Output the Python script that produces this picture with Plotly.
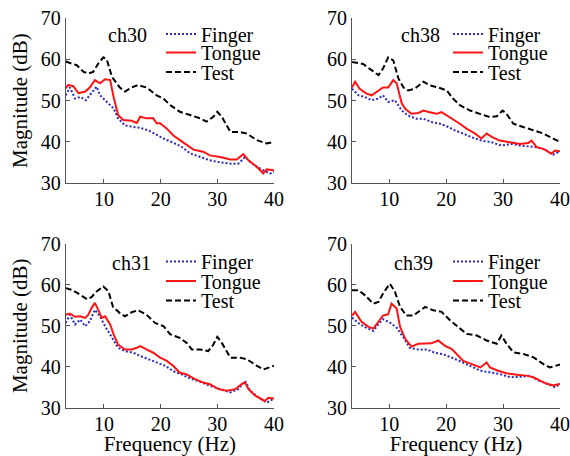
import plotly.graph_objects as go

# ---------------- data ----------------
# ch30
ch30_test_f = [3.25,5.2,6.4,7.25,8.1,9.0,9.9,10.5,11.4,12.0,12.8,13.7,14.9,16.0,17.5,19.3,20.5,21.7,23.4,25.2,27.0,28.1,29.3,30.0,30.8,32.3,34.0,35.2,37.0,38.7,40.0]
ch30_test = [59.5,58.6,57.0,56.6,57.0,59.0,60.5,60.0,55.8,54.6,53.2,52.2,53.2,53.8,53.2,51.3,50.5,48.9,47.3,46.5,45.7,44.9,46.1,47.3,46.1,42.4,42.4,42.0,40.4,39.6,40.0]
ch30_tongue_f = [3.25,3.7,4.6,5.5,6.7,7.5,8.4,9.3,10.2,11.1,11.7,12.5,13.4,14.9,15.8,16.4,17.5,18.7,19.3,19.9,21.1,22.2,23.4,24.6,25.8,27.5,28.7,30.5,32.3,33.4,34.6,35.5,37.0,38.1,38.7,40.0]
ch30_tongue = [53.0,53.8,53.5,51.8,52.2,53.2,55.0,54.2,55.2,55.0,50.9,46.5,45.3,45.1,44.6,46.1,45.7,45.7,44.5,44.5,43.2,41.6,40.4,39.2,38.1,37.6,36.7,36.3,35.7,35.7,37.0,35.5,33.9,32.3,33.3,33.1]
ch30_finger_f = [3.25,4.0,4.9,5.8,6.8,7.8,8.7,9.3,10.5,11.7,12.5,13.7,15.2,16.4,17.8,19.3,20.8,22.2,23.7,25.2,27.0,28.7,30.5,32.3,33.7,34.9,35.8,37.0,38.1,39.3,40.0]
ch30_finger = [51.3,53.2,50.5,50.9,50.1,51.8,53.4,51.3,49.7,48.1,45.7,44.0,43.6,43.4,42.8,41.6,40.6,39.8,38.8,37.2,36.3,35.5,35.0,34.7,34.7,36.3,35.1,33.9,33.1,32.3,32.7]

# ch38
ch38_test_f = [3.45,5.4,6.9,8.1,8.9,9.8,10.7,11.6,12.5,13.3,14.5,16.0,17.1,18.6,20.1,21.2,22.4,24.2,25.9,27.7,28.9,29.9,30.6,31.8,33.5,35.3,37.1,38.8,40.0]
ch38_test = [59.4,58.9,57.4,56.2,57.8,60.5,59.8,55.4,53.2,52.5,52.9,54.6,53.7,53.2,52.5,50.5,48.9,47.6,46.8,46.0,46.2,47.6,46.8,44.4,43.6,42.8,42.0,40.8,40.0]
ch38_tongue_f = [3.45,4.0,4.8,6.0,6.9,7.8,8.9,9.8,10.7,11.3,12.2,12.8,13.9,15.1,16.0,17.1,18.3,19.2,20.1,21.2,22.4,23.6,25.1,26.2,27.1,28.0,29.4,31.2,33.0,34.4,35.0,35.9,37.1,38.5,39.1,40.0]
ch38_tongue = [53.2,54.6,52.9,51.7,51.3,52.1,53.2,53.2,55.0,54.2,49.3,48.0,46.8,47.0,47.6,47.2,46.8,47.2,46.4,45.6,44.4,43.2,42.0,40.8,42.0,41.2,40.3,39.9,39.5,39.7,40.3,38.7,38.3,37.1,37.9,37.7]
ch38_finger_f = [3.45,4.6,5.7,6.9,8.1,8.9,9.8,11.0,12.2,13.3,14.8,16.0,17.4,18.9,20.4,21.5,23.0,24.5,26.2,28.0,29.7,31.5,33.0,34.4,35.9,37.4,38.8,40.0]
ch38_finger = [52.9,51.3,50.9,50.1,50.5,51.3,49.7,50.1,47.6,46.4,45.6,45.6,44.8,44.4,43.6,42.8,42.0,41.1,40.3,39.9,39.1,39.5,39.1,38.9,38.7,38.1,36.9,37.7]

# ch31
ch31_test_f = [3.25,4.3,5.8,7.0,7.8,8.7,9.9,10.8,11.6,12.8,13.7,14.9,16.0,17.5,19.0,20.5,21.7,23.4,24.6,25.5,27.0,28.4,29.3,30.0,30.8,32.3,34.0,35.2,37.0,38.1,40.0]
ch31_test = [59.2,58.8,57.6,56.5,57.0,58.4,59.6,58.4,54.6,53.1,52.3,53.3,53.8,52.7,50.7,49.9,47.9,47.0,45.8,44.2,44.2,43.8,45.4,47.3,45.8,42.2,42.2,41.8,40.2,39.3,40.2]
ch31_tongue_f = [3.25,4.0,4.9,5.8,6.7,7.25,7.8,8.4,9.0,9.6,10.2,11.1,11.7,12.5,13.7,14.9,15.8,16.4,17.5,18.7,19.9,21.1,22.2,23.4,24.6,25.8,27.5,28.7,30.2,31.7,33.2,34.3,34.9,35.5,36.7,37.8,38.4,39.0,40.0]
ch31_tongue = [52.7,53.0,52.2,52.3,51.9,52.7,54.3,55.6,53.9,51.9,52.3,50.3,47.9,45.4,44.2,44.2,44.6,45.0,44.2,43.4,42.2,41.4,40.2,38.5,38.1,37.1,36.1,35.7,34.5,34.1,34.5,35.7,36.1,34.5,32.9,32.0,31.6,32.4,32.2]
ch31_finger_f = [3.25,4.0,4.9,5.8,6.7,7.5,8.4,9.3,10.2,11.4,12.5,13.7,15.2,16.4,17.8,19.3,20.8,22.2,23.7,25.2,27.0,28.7,30.5,32.3,33.7,34.9,35.8,37.3,38.7,40.0]
ch31_finger = [50.7,52.7,50.3,51.5,49.9,51.1,53.9,52.3,49.9,47.0,44.6,43.8,43.4,42.6,41.8,41.0,40.2,38.9,38.1,37.1,36.3,35.3,34.5,33.7,34.5,36.5,34.1,32.4,31.2,32.2]

# ch39
ch39_test_f = [3.45,4.6,5.7,7.2,8.1,8.9,10.1,11.0,11.9,13.0,14.2,15.4,16.3,17.7,19.2,20.7,22.1,23.6,25.4,27.1,28.9,29.7,30.6,31.8,33.6,35.3,37.1,38.2,40.0]
ch39_test = [58.7,58.7,57.5,55.4,55.8,57.9,60.3,58.3,54.6,52.5,52.5,53.8,54.6,53.8,53.4,51.3,49.7,48.0,47.6,46.4,45.6,47.6,45.6,43.5,43.1,42.3,40.6,39.8,40.5]
ch39_tongue_f = [3.45,4.0,5.1,6.3,7.2,8.1,8.9,9.8,10.4,11.3,11.9,12.8,13.9,15.1,16.3,17.4,18.6,19.8,21.0,21.8,23.0,24.5,26.0,27.1,27.7,29.1,30.6,32.4,34.1,35.3,36.5,37.7,38.9,40.0]
ch39_tongue = [52.5,53.4,51.0,49.8,49.3,51.0,52.5,52.8,55.4,54.2,49.7,46.8,44.9,45.6,45.6,45.7,46.4,45.1,44.3,43.1,41.4,40.6,39.8,41.0,39.8,39.0,38.4,38.0,37.8,37.4,36.6,35.8,35.4,35.8]
ch39_finger_f = [3.45,4.8,6.0,7.2,8.1,8.9,10.1,11.3,12.5,13.6,15.1,16.6,18.0,19.5,21.0,22.4,24.2,26.0,27.7,29.4,31.2,33.0,34.8,36.2,37.7,39.1,40.0]
ch39_finger = [52.0,50.4,49.5,48.7,50.4,51.6,50.8,49.5,47.1,44.6,44.2,44.2,43.4,43.0,42.2,41.4,40.2,39.0,38.6,38.2,37.4,37.5,37.8,36.6,35.8,35.0,35.7]

channels = ["ch30", "ch38", "ch31", "ch39"]
series_names = ["Finger", "Tongue", "Test"]
x_ticks = [10, 20, 30, 40]
y_ticks = [30, 40, 50, 60, 70]

panels = [
    (ch30_finger_f, ch30_finger, ch30_tongue_f, ch30_tongue, ch30_test_f, ch30_test),
    (ch38_finger_f, ch38_finger, ch38_tongue_f, ch38_tongue, ch38_test_f, ch38_test),
    (ch31_finger_f, ch31_finger, ch31_tongue_f, ch31_tongue, ch31_test_f, ch31_test),
    (ch39_finger_f, ch39_finger, ch39_tongue_f, ch39_tongue, ch39_test_f, ch39_test),
]

# ---------------- layout / style ----------------
W, H = 570, 456
FONT = "Liberation Serif"
styles = {
    "Finger": dict(color="rgb(40,40,190)", width=2, dash="2px,2px"),
    "Tongue": dict(color="rgb(255,20,20)", width=2, dash="solid"),
    "Test": dict(color="black", width=2, dash="6px,3px"),
}

# pixel boxes of the four plot areas: (left, right, top, bottom)
boxes = [(65.7, 274, 18.3, 183), (352, 560, 18.3, 183),
         (65.7, 274, 244, 407.5), (352, 560, 244, 407.5)]
xmins = [3.25, 3.45, 3.25, 3.45]
label_pos = [(127.6, 35), (420.7, 35), (131.7, 263), (413, 263)]
legend_left = [161, 448, 161, 448]
legend_centers = [[34, 52.5, 72], [34, 52.5, 72],
                  [261.5, 281, 300.5], [261.5, 281, 300.5]]

fig = go.Figure()
layout = dict(
    width=W, height=H, margin=dict(l=0, r=0, t=0, b=0),
    paper_bgcolor="white", plot_bgcolor="white",
    font=dict(family=FONT, size=20, color="black"),
    annotations=[],
)

LEG_FS = 20
leg_half = 5 + (LEG_FS * 1.3 + 3) / 2
leg_idx = 0
for p, (data, ch) in enumerate(zip(panels, channels)):
    suffix = "" if p == 0 else str(p + 1)
    xs = [data[0], data[2], data[4]]
    ys = [data[1], data[3], data[5]]
    for s, name in enumerate(series_names):
        leg_idx += 1
        leg_name = "legend" if leg_idx == 1 else f"legend{leg_idx}"
        fig.add_trace(go.Scatter(
            x=xs[s], y=ys[s], mode="lines", name=name,
            line=styles[name], xaxis="x" + suffix, yaxis="y" + suffix,
            legend=leg_name, showlegend=True,
        ))
        top_px = legend_centers[p][s] - leg_half
        layout[leg_name] = dict(
            x=(legend_left[p]) / W, y=1 - top_px / H,
            xanchor="left", yanchor="top",
            bgcolor="rgba(0,0,0,0)", borderwidth=0,
            font=dict(family=FONT, size=LEG_FS, color="black"),
        )
    l, r, t, b = boxes[p]
    left_col = p in (0, 2)
    bottom_row = p in (2, 3)
    layout["xaxis" + suffix] = dict(
        domain=[l / W, r / W], anchor="y" + suffix,
        range=[xmins[p], 40], tickvals=x_ticks,
        showline=True, linecolor="#555", linewidth=1,
        ticks="inside", ticklen=4, tickcolor="#555",
        showgrid=False, zeroline=False, automargin=False,
        ticklabelstandoff=-2,
        tickfont=dict(family=FONT, size=20, color="black"),
        title=dict(text="Frequency (Hz)" if bottom_row else "",
                   font=dict(family=FONT, size=21, color="black"), standoff=3),
    )
    layout["yaxis" + suffix] = dict(
        domain=[1 - b / H, 1 - t / H], anchor="x" + suffix,
        range=[30, 70], tickvals=y_ticks,
        showline=True, linecolor="#555", linewidth=1,
        ticks="inside", ticklen=4, tickcolor="#555",
        showgrid=False, zeroline=False, automargin=False,
        tickfont=dict(family=FONT, size=20, color="black"),
        title=dict(text="Magnitude (dB)" if left_col else "",
                   font=dict(family=FONT, size=21, color="black"), standoff=7),
    )
    lx, ly = label_pos[p]
    layout["annotations"].append(dict(
        text=ch, x=lx / W, y=1 - ly / H, xref="paper", yref="paper",
        showarrow=False, xanchor="center", yanchor="middle",
        font=dict(family=FONT, size=20, color="black"),
    ))

fig.update_layout(**layout)
fig.write_html("out.html", post_script="document.body.style.margin='0px';",
               config={"displayModeBar": False})
